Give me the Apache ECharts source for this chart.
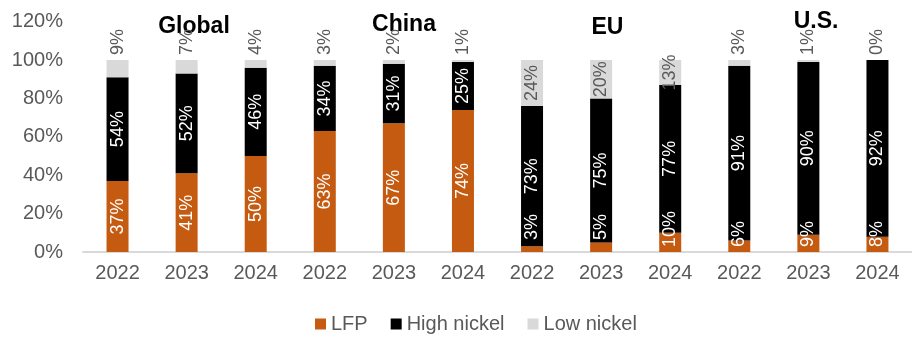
<!DOCTYPE html>
<html>
<head>
<meta charset="utf-8">
<script src="https://cdn.jsdelivr.net/npm/echarts@6/dist/echarts.min.js"></script>
<style>html,body{margin:0;padding:0;background:#fff}#c{width:912px;height:337px}</style>
</head>
<body>
<div id="c"></div>
<script>
const years = ['2022', '2023', '2024'];
const regions = ['Global', 'China', 'EU', 'U.S.'];
const seriesNames = ['LFP', 'High nickel', 'Low nickel'];
const lfp = [37, 41, 50, 63, 67, 74, 3, 5, 10, 6, 9, 8];
const highNickel = [54, 52, 46, 34, 31, 25, 73, 75, 77, 91, 90, 92];
const lowNickel = [9, 7, 4, 3, 2, 1, 24, 20, 13, 3, 1, 0];
const yTicks = [0, 20, 40, 60, 80, 100, 120];

const FONT = '"Liberation Sans", Arial, sans-serif';
const GREY = '#595959';
const categories = [];
regions.forEach(r => years.forEach(y => categories.push(r + '|' + y)));

const rot = { rotate: 90, fontSize: 18, fontFamily: FONT };
function lfpData() {
  return lfp.map(v => ({
    value: v,
    label: v >= 12
      ? Object.assign({ show: true, position: 'inside', color: '#fff' }, rot)
      : Object.assign({ show: true, position: 'insideBottom', distance: v < 6 ? 12 : 5, align: 'left', verticalAlign: 'middle', color: '#fff' }, rot)
  }));
}
function hnData() {
  return highNickel.map(v => ({
    value: v,
    label: Object.assign({ show: true, position: 'inside', color: '#fff' }, rot)
  }));
}
function lnData() {
  return lowNickel.map(v => ({
    value: v,
    label: v >= 10
      ? Object.assign({ show: true, position: 'inside', color: GREY }, rot)
      : Object.assign({ show: true, position: 'top', distance: 5, align: 'left', verticalAlign: 'middle', color: GREY }, rot)
  }));
}
const fmt = p => p.value + '%';

const chart = echarts.init(document.getElementById('c'), null, { renderer: 'canvas' });
const titlePos = [[194, 27], [404, 25], [607.5, 28], [816, 22]];
chart.setOption({
  animation: false,
  backgroundColor: '#fff',
  grid: { left: 83, top: 21.6, width: 840, height: 230.4, containLabel: false },
  legend: {
    left: 310, top: 309,
    itemWidth: 11, itemHeight: 11, itemGap: 23,
    icon: 'rect',
    textStyle: { fontSize: 20, color: GREY, fontFamily: FONT },
    data: seriesNames
  },
  xAxis: {
    type: 'category',
    data: categories,
    axisLine: { lineStyle: { color: '#D9D9D9', width: 2 } },
    axisTick: { show: false },
    axisLabel: { formatter: v => v.split('|')[1], fontSize: 20, color: GREY, fontFamily: FONT, margin: 11, interval: 0 }
  },
  yAxis: {
    type: 'value', min: yTicks[0], max: yTicks[yTicks.length - 1], interval: 20,
    splitLine: { show: false }, axisLine: { show: false }, axisTick: { show: false },
    axisLabel: { formatter: '{value}%', fontSize: 20, color: GREY, fontFamily: FONT, margin: 20 }
  },
  graphic: regions.map((r, i) => ({
    type: 'text', x: titlePos[i][0], y: titlePos[i][1],
    style: { text: r, font: 'bold 23px ' + FONT, fill: '#000', textAlign: 'center', textVerticalAlign: 'middle' }
  })),
  series: [
    { name: seriesNames[0], type: 'bar', stack: 's', barWidth: 22, itemStyle: { color: '#C55A11' }, label: { formatter: fmt }, data: lfpData() },
    { name: seriesNames[1], type: 'bar', stack: 's', barWidth: 22, itemStyle: { color: '#000000' }, label: { formatter: fmt }, data: hnData() },
    { name: seriesNames[2], type: 'bar', stack: 's', barWidth: 22, itemStyle: { color: '#D9D9D9' }, label: { formatter: fmt }, data: lnData() }
  ]
});
</script>
</body>
</html>
